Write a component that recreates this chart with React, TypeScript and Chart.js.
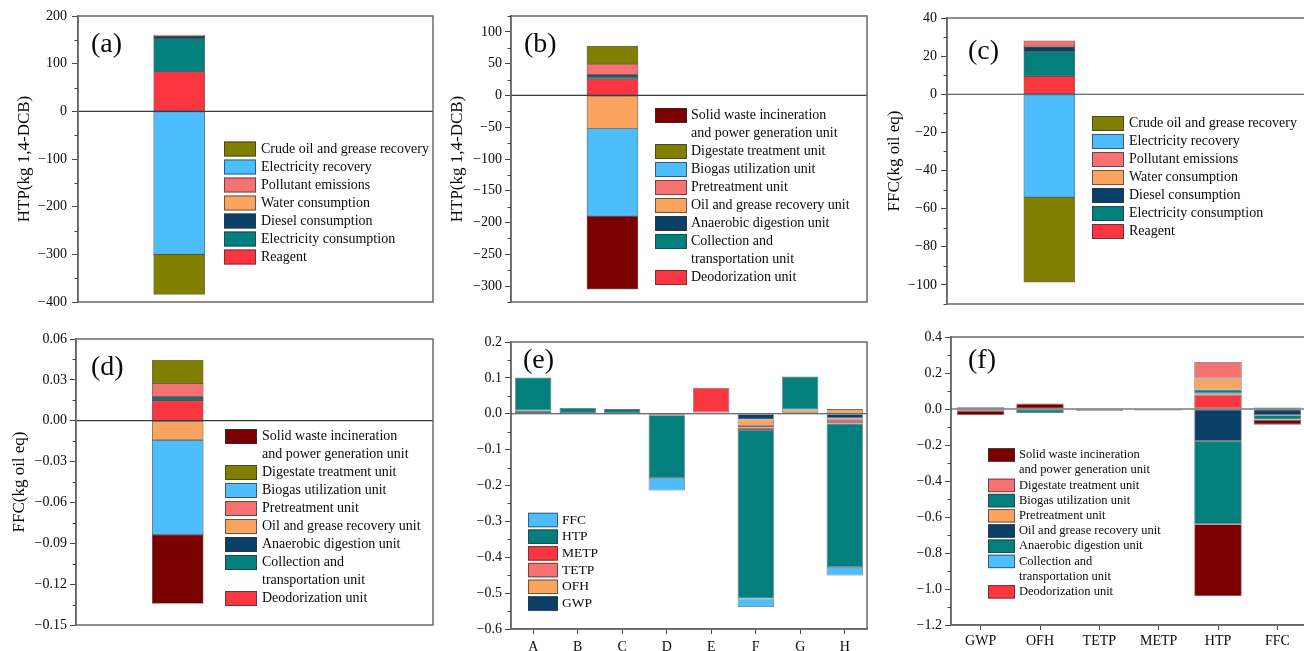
import React, { useEffect, useRef } from 'react';
import { Chart, registerables } from 'chart.js';

Chart.register(...registerables);

const FONT = '"Liberation Serif", "Times New Roman", Times, serif';
const TEXT = '#0a0a0a';

const OLIVE = '#807f00';
const LIGHTBLUE = '#4dbdfd';
const SALMON = '#f67272';
const ORANGE = '#f9a560';
const NAVY = '#0a4068';
const TEAL = '#03807e';
const RED = '#fb3640';
const DARKRED = '#7a0000';

// ---------- (a) HTP by inventory item ----------
const A_SERIES = ['Reagent', 'Electricity consumption', 'Diesel consumption', 'Water consumption', 'Pollutant emissions', 'Electricity recovery', 'Crude oil and grease recovery'];
const A_VALUES = [83, 70, 5, 0.4, 1.5, -300, -84];
const A_COLORS = [RED, TEAL, NAVY, ORANGE, SALMON, LIGHTBLUE, OLIVE];
const A_TICKS = [-400, -300, -200, -100, 0, 100, 200];

// ---------- (b) HTP by unit ----------
const UNIT_SERIES = ['Deodorization unit', 'Collection and\ntransportation unit', 'Anaerobic digestion unit', 'Oil and grease recovery unit', 'Pretreatment unit', 'Biogas utilization unit', 'Digestate treatment unit', 'Solid waste incineration\nand power generation unit'];
const UNIT_COLORS = [RED, TEAL, NAVY, ORANGE, SALMON, LIGHTBLUE, OLIVE, DARKRED];
const B_VALUES = [26, 2.5, 4, -52, 17, -138, 28, -115];
const B_TICKS = [-300, -250, -200, -150, -100, -50, 0, 50, 100];

// ---------- (c) FFC by inventory item ----------
const C_VALUES = [9.4, 12.9, 2.6, 0.3, 2.8, -54, -44.5];
const C_TICKS = [-100, -80, -60, -40, -20, 0, 20, 40];

// ---------- (d) FFC by unit ----------
const D_VALUES = [0.0147, 0.0017, 0.0012, -0.0142, 0.0098, -0.0695, 0.0171, -0.0505];
const D_TICKS = [-0.15, -0.12, -0.09, -0.06, -0.03, 0, 0.03, 0.06];

// ---------- (e) scenarios A-H ----------
const E_CATEGORIES = ['A', 'B', 'C', 'D', 'E', 'F', 'G', 'H'];
const E_SERIES = ['GWP', 'OFH', 'TETP', 'METP', 'HTP', 'FFC'];
const E_COLORS = [NAVY, ORANGE, SALMON, RED, TEAL, LIGHTBLUE];
const E_GWP = [0.008, 0.002, 0.001, -0.004, 0.003, -0.016, 0.004, -0.013];
const E_OFH = [0.001, null, null, null, 0.001, -0.018, 0.008, 0.013];
const E_TETP = [null, null, null, null, null, -0.004, null, -0.007];
const E_METP = [null, null, null, null, 0.068, -0.007, null, -0.007];
const E_HTP = [0.092, 0.014, 0.012, -0.175, null, -0.47, 0.092, -0.4];
const E_FFC = [null, null, null, -0.035, null, -0.024, null, -0.024];
const E_TICKS = [-0.6, -0.5, -0.4, -0.3, -0.2, -0.1, 0, 0.1, 0.2];

// ---------- (f) indicators by unit ----------
const F_CATEGORIES = ['GWP', 'OFH', 'TETP', 'METP', 'HTP', 'FFC'];
const F_COLORS = [RED, LIGHTBLUE, TEAL, NAVY, ORANGE, TEAL, SALMON, DARKRED];
const F_DEODORIZATION = [null, null, null, null, 0.08, null];
const F_COLLECTION = [null, null, null, null, 0.008, null];
const F_ANAEROBIC = [-0.01, null, null, null, 0.02, 0.008];
const F_OIL = [0.01, null, -0.01, -0.008, -0.178, -0.035];
const F_PRETREATMENT = [null, null, null, null, 0.061, null];
const F_BIOGAS = [null, -0.022, null, null, -0.462, -0.024];
const F_DIGESTATE = [null, null, null, null, 0.092, null];
const F_SOLIDWASTE = [-0.025, 0.03, 0.004, null, -0.4, -0.028];
const F_TICKS = [-1.2, -1.0, -0.8, -0.6, -0.4, -0.2, 0, 0.2, 0.4];

const BAR_X = 0.285;
const BAR_W = 51;

const minus = (s: string) => s.replace('-', '\u2212');
const fmt0 = (v: number) => minus(String(Math.round(v)));
const fmt1 = (v: number) => minus(v.toFixed(1));
const fmt2 = (v: number) => minus(v.toFixed(2));

type Legend = { boxX: number; boxW: number; boxH: number; y0: number; step: number; textX: number; size: number };

type Spec = {
  cx: number; cy: number; cw: number; ch: number;
  L: number; T: number; R: number; B: number;
  series: string[];
  colors: string[];
  values: any[];
  categories?: string[];
  barPct?: number;
  xPad?: number;
  yPad: number;
  yMin: number; yMax: number; yTicks: number[];
  fmt: (v: number) => string;
  yTitle?: string; yTitleX?: number;
  legend: Legend;
  label: { text: string; x: number; y: number };
};

const decorPlugin = {
  id: 'decor',
  afterDatasetsDraw(chart: any) {
    const { ctx, chartArea: ca, scales } = chart;
    const y0 = scales.y.getPixelForValue(0);
    ctx.save();
    ctx.strokeStyle = '#3c3c3c';
    ctx.lineWidth = 1.2;
    ctx.beginPath();
    ctx.moveTo(ca.left, y0);
    ctx.lineTo(ca.right, y0);
    ctx.stroke();
    ctx.restore();
  },
  afterDraw(chart: any, _args: any, opts: any) {
    const { ctx, chartArea: ca, scales } = chart;
    const ox = opts.ox, oy = opts.oy;
    ctx.save();
    // frame
    ctx.strokeStyle = '#6a6a6a';
    ctx.lineWidth = 1.5;
    ctx.strokeRect(ca.left, ca.top, ca.right - ca.left, ca.bottom - ca.top);
    // minor ticks on y
    const ys = scales.y;
    const vals = ys.ticks.map((t: any) => t.value);
    if (vals.length > 1) {
      const step = vals[1] - vals[0];
      ctx.strokeStyle = '#444';
      ctx.lineWidth = 1;
      for (let i = -1; i < vals.length; i++) {
        const m = vals[0] + step * (i + 0.5);
        if (m < ys.min - 1e-9 || m > ys.max + 1e-9) continue;
        const py = Math.round(ys.getPixelForValue(m)) + 0.5;
        ctx.beginPath();
        ctx.moveTo(ca.left, py);
        ctx.lineTo(ca.left - 3.5, py);
        ctx.stroke();
      }
    }
    // legend
    const lg = opts.legend;
    const ds = chart.data.datasets.slice().reverse();
    let row = 0;
    ctx.font = `${lg.size}px ${FONT}`;
    ctx.textBaseline = 'middle';
    ctx.textAlign = 'left';
    ds.forEach((d: any) => {
      const lines = String(d.label).split('\n');
      const cyRow = lg.y0 + row * lg.step - oy;
      ctx.fillStyle = d.backgroundColor;
      ctx.fillRect(lg.boxX - ox, cyRow - lg.boxH / 2, lg.boxW, lg.boxH);
      ctx.strokeStyle = 'rgba(50,50,50,0.7)';
      ctx.lineWidth = 1;
      ctx.strokeRect(lg.boxX - ox + 0.5, cyRow - lg.boxH / 2 + 0.5, lg.boxW - 1, lg.boxH - 1);
      ctx.fillStyle = TEXT;
      lines.forEach((ln: string, k: number) => {
        ctx.fillText(ln, lg.textX - ox, cyRow + k * lg.step);
      });
      row += lines.length;
    });
    // panel label
    const lb = opts.label;
    ctx.font = `28px ${FONT}`;
    ctx.fillStyle = TEXT;
    ctx.textBaseline = 'middle';
    ctx.fillText(lb.text, lb.x - ox, lb.y - oy);
    ctx.restore();
  },
};

function makeConfig(s: Spec): any {
  const single = !s.categories;
  const datasets = s.series.map((name, i) => ({
    label: name,
    data: single ? [{ x: BAR_X, y: s.values[i] }] : s.values[i],
    backgroundColor: s.colors[i],
    borderColor: 'rgba(45,45,45,0.7)',
    borderWidth: 0.8,
    borderSkipped: false,
    ...(single ? { barThickness: BAR_W } : { barPercentage: s.barPct, categoryPercentage: 1 }),
  }));
  const xHeight = s.cy + s.ch - s.B;
  const xScale: any = single
    ? { type: 'linear', min: 0, max: 1, display: false, stacked: true, offset: false, grid: { offset: false } }
    : {
        type: 'category',
        stacked: true,
        offset: true,
        afterFit: (sc: any) => { sc.height = xHeight; },
        grid: { drawOnChartArea: false, drawTicks: true, tickLength: 5, color: '#444', offset: false },
        border: { display: true, color: '#555', width: 1.5 },
        ticks: { font: { family: FONT, size: 14 }, color: TEXT, padding: s.xPad ?? 4, maxRotation: 0, autoSkip: false },
      };
  const yScale: any = {
    type: 'linear',
    stacked: true,
    min: s.yMin,
    max: s.yMax,
    afterBuildTicks: (sc: any) => { sc.ticks = s.yTicks.map((v) => ({ value: v })); },
    afterFit: (sc: any) => { sc.width = s.L - s.cx; },
    grid: { drawOnChartArea: false, drawTicks: true, tickLength: 6, color: '#444', lineWidth: 1 },
    border: { display: true, color: '#555', width: 1.5 },
    ticks: { font: { family: FONT, size: 14 }, color: TEXT, padding: s.yPad, callback: (v: any) => s.fmt(Number(v)) },
    title: s.yTitle
      ? { display: true, text: s.yTitle, font: { family: FONT, size: 17 }, color: TEXT, padding: { top: (s.yTitleX ?? 0) - s.cx - 10.2, bottom: 0 } }
      : { display: false },
  };
  return {
    type: 'bar',
    data: single ? { datasets } : { labels: s.categories, datasets },
    plugins: [decorPlugin],
    options: {
      animation: false,
      responsive: false,
      devicePixelRatio: 1,
      layout: {
        padding: {
          left: 0,
          top: s.T - s.cy,
          right: s.cx + s.cw - s.R,
          bottom: single ? s.cy + s.ch - s.B : 0,
        },
      },
      scales: { x: xScale, y: yScale },
      plugins: {
        legend: { display: false },
        tooltip: { enabled: false },
        decor: { ox: s.cx, oy: s.cy, legend: s.legend, label: s.label },
      },
    },
  };
}

const SPECS: Spec[] = [
  {
    cx: 0, cy: 0, cw: 436, ch: 318, L: 78, T: 16, R: 433, B: 302,
    series: A_SERIES, colors: A_COLORS, values: A_VALUES, yPad: 5,
    yMin: -400, yMax: 200, yTicks: A_TICKS, fmt: fmt0,
    yTitle: 'HTP(kg 1,4-DCB)', yTitleX: 25,
    legend: { boxX: 224, boxW: 32, boxH: 15, y0: 149, step: 18, textX: 261, size: 14 },
    label: { text: '(a)', x: 91, y: 45 },
  },
  {
    cx: 436, cy: 0, cw: 434, ch: 318, L: 511, T: 16, R: 867, B: 302,
    series: UNIT_SERIES, colors: UNIT_COLORS, values: B_VALUES, yPad: 3,
    yMin: -325, yMax: 125, yTicks: B_TICKS, fmt: fmt0,
    yTitle: 'HTP(kg 1,4-DCB)', yTitleX: 458,
    legend: { boxX: 655, boxW: 32, boxH: 15, y0: 115.5, step: 18, textX: 691, size: 14 },
    label: { text: '(b)', x: 524, y: 45 },
  },
  {
    cx: 870, cy: 0, cw: 437, ch: 318, L: 947, T: 18, R: 1306, B: 304,
    series: A_SERIES, colors: A_COLORS, values: C_VALUES, yPad: 4,
    yMin: -110, yMax: 40, yTicks: C_TICKS, fmt: fmt0,
    yTitle: 'FFC(kg oil eq)', yTitleX: 895,
    legend: { boxX: 1092, boxW: 32, boxH: 15, y0: 123.5, step: 18, textX: 1129, size: 14 },
    label: { text: '(c)', x: 968, y: 52 },
  },
  {
    cx: 0, cy: 318, cw: 436, ch: 333, L: 76, T: 339, R: 433, B: 625,
    series: UNIT_SERIES, colors: UNIT_COLORS, values: D_VALUES, yPad: 3,
    yMin: -0.15, yMax: 0.06, yTicks: D_TICKS, fmt: fmt2,
    yTitle: 'FFC(kg oil eq)', yTitleX: 20,
    legend: { boxX: 225, boxW: 32, boxH: 15, y0: 436.5, step: 18, textX: 262, size: 14 },
    label: { text: '(d)', x: 91, y: 368 },
  },
  {
    cx: 436, cy: 318, cw: 434, ch: 333, L: 511, T: 342, R: 867, B: 629,
    series: E_SERIES, colors: E_COLORS, values: [E_GWP, E_OFH, E_TETP, E_METP, E_HTP, E_FFC], yPad: 3,
    categories: E_CATEGORIES, barPct: 0.816, xPad: 5,
    yMin: -0.6, yMax: 0.2, yTicks: E_TICKS, fmt: fmt1,
    legend: { boxX: 528, boxW: 30, boxH: 14.5, y0: 520, step: 16.7, textX: 562, size: 13.5 },
    label: { text: '(e)', x: 523, y: 361 },
  },
  {
    cx: 870, cy: 318, cw: 437, ch: 333, L: 951, T: 337, R: 1307, B: 625,
    series: UNIT_SERIES, colors: F_COLORS, yPad: 3,
    values: [F_DEODORIZATION, F_COLLECTION, F_ANAEROBIC, F_OIL, F_PRETREATMENT, F_BIOGAS, F_DIGESTATE, F_SOLIDWASTE],
    categories: F_CATEGORIES, barPct: 0.8, xPad: 3,
    yMin: -1.2, yMax: 0.4, yTicks: F_TICKS, fmt: fmt1,
    legend: { boxX: 988, boxW: 27, boxH: 13.5, y0: 455, step: 15.2, textX: 1019, size: 12.5 },
    label: { text: '(f)', x: 968, y: 361 },
  },
];

function Panel({ spec }: { spec: Spec }) {
  const ref = useRef<HTMLCanvasElement | null>(null);
  useEffect(() => {
    if (!ref.current) return;
    const chart = new Chart(ref.current, makeConfig(spec));
    return () => chart.destroy();
  }, [spec]);
  return (
    <canvas
      ref={ref}
      width={spec.cw}
      height={spec.ch}
      style={{ position: 'absolute', left: spec.cx, top: spec.cy, width: spec.cw, height: spec.ch, display: 'block' }}
    />
  );
}

export default function App() {
  return (
    <div style={{ position: 'fixed', left: 0, top: 0, width: 1304, height: 651, overflow: 'hidden', background: '#fff' }}>
      {SPECS.map((s, i) => (
        <Panel key={i} spec={s} />
      ))}
    </div>
  );
}
